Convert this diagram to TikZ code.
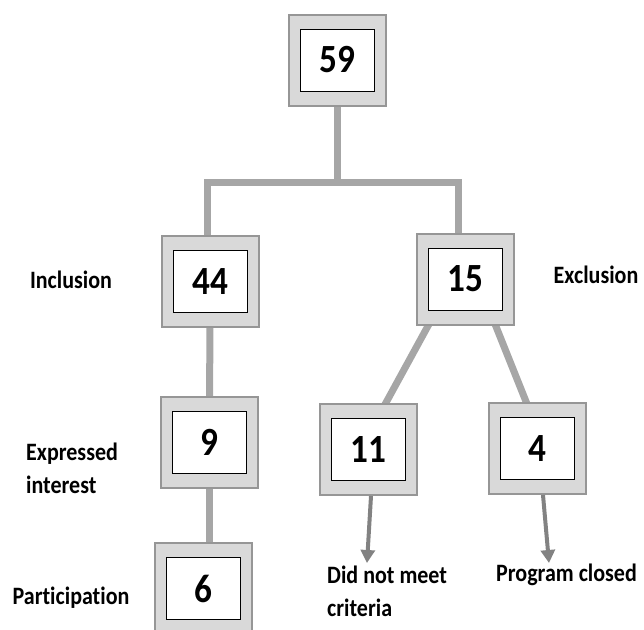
\documentclass[tikz,border=0pt]{standalone}
\usepackage{fontspec}
\setmainfont{Carlito}[FakeStretch=0.88,Ligatures=NoCommon]
\usetikzlibrary{arrows.meta,calc,backgrounds}
\definecolor{boxfill}{RGB}{217,217,217}
\definecolor{boxline}{RGB}{150,150,150}
\definecolor{linkgray}{RGB}{166,166,166}
\definecolor{arrgray}{RGB}{130,130,130}

\begin{document}
\begin{tikzpicture}[x=1pt,y=-1pt,
    outerbox/.style={draw=boxline,fill=boxfill,line width=2pt,
      minimum width=97pt,minimum height=91pt,inner sep=0pt},
    innerbox/.style={draw=black,fill=white,line width=1pt,
      minimum width=74pt,minimum height=62pt,inner sep=0pt,
      font=\fontsize{40}{40}\selectfont\bfseries},
    link/.style={draw=linkgray,line width=7pt},
    outlink/.style={draw=arrgray,line width=4pt,
      -{Triangle[width=14pt,length=13pt]}},
    lbl/.style={font=\fontsize{25}{33}\selectfont\bfseries,inner sep=0pt}]
    \useasboundingbox (0,0) rectangle (644,629);
    % boxes
    \foreach \name/\x/\y/\val in {
      b59/337/60/59,
      b44/210/281.5/44,
      b15/465.5/279/15,
      b9/209.5/442.5/9,
      b11/368.5/449.5/11,
      b4/537.5/448.5/4,
      b6/203.5/588.5/6}{
      \node[outerbox] (\name) at (\x,\y) {};
      \node[innerbox] (\name-in) at (\name) {\val};
    }
    % tree lines
    \coordinate (split) at (337,182);
    \coordinate (lft) at (207,182);
    \coordinate (rgt) at (458,182);
    \begin{scope}[on background layer]
      \draw[link] (b59) -- (split);
      \draw[link] (b44 -| lft) -- (lft) -- (rgt) -- (b15 -| rgt);
      \draw[link] (b44) -- (b9);
      \draw[link] (b9) -- (b9 |- b6);
      \draw[link] ($(b15)+(-31,35)$) -- ($(b11)+(11,-35)$);
      \draw[link] ($(b15)+(25.5,35)$) -- ($(b4)+(-6.5,-34.5)$);
    \end{scope}
    \coordinate (dnm) at (367,563);
    \coordinate (pc) at (549,563);
    \draw[outlink] ([xshift=2.5pt]b11.south) -- (dnm);
    \draw[outlink] ([xshift=5.5pt]b4.south) -- (pc);
    % labels
    \node[lbl] (incl) at (71,280) {Inclusion};
    \node[lbl] (excl) at (596,275) {Exclusion};
    \node[lbl,anchor=west,align=left] (expr) at (26,468) {Expressed\\interest};
    \node[lbl] (part) at (71,598) {Participation};
    \node[lbl,anchor=west,align=left] (crit) at (327,591) {Did not meet\\criteria};
    \node[lbl,anchor=west] (prog) at (496,575) {Program closed};
\end{tikzpicture}
\end{document}
